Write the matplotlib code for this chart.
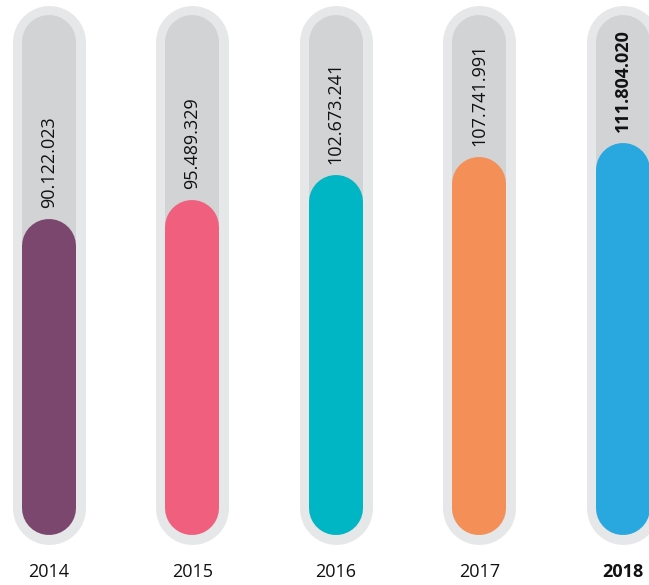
import matplotlib
matplotlib.use("Agg")
import matplotlib.pyplot as plt
import matplotlib.transforms as mtransforms

plt.rcParams['font.family'] = ['Open Sans', 'DejaVu Sans']

years = ['2014', '2015', '2016', '2017', '2018']
values = [90.122023, 95.489329, 102.673241, 107.741991, 111.804020]
labels = ['90.122.023', '95.489.329', '102.673.241', '107.741.991', '111.804.020']
colors = ['#7b476e', '#f0607e', '#00b5c4', '#f48f58', '#29a8df']
track_max = 148.3

fig = plt.figure(figsize=(6.49, 5.85), dpi=100)
ax = fig.add_axes([0, 0, 1, 1])
ax.set_xlim(-0.342, 4.184)
ax.set_ylim(-14.26, 152.6)
ax.axis('off')

# pixels per data unit in y, used to keep round caps inside the range
p0 = ax.transData.transform((0, 0))
p1 = ax.transData.transform((0, 1))
ppu = p1[1] - p0[1]
px2pt = 72.0 / fig.dpi

outer_w = 73
inner_w = 54
r = inner_w / 2 / ppu

for i, (v, lab, c, yr) in enumerate(zip(values, labels, colors, years)):
    ax.plot([i, i], [r, track_max - r], color='#e6e7e8', lw=outer_w * px2pt,
            solid_capstyle='round')
    ax.plot([i, i], [r, track_max - r], color='#d1d3d4', lw=inner_w * px2pt,
            solid_capstyle='round')
    ax.plot([i, i], [r, v - r], color=c, lw=inner_w * px2pt,
            solid_capstyle='round')
    bold = 'bold' if yr == '2018' else 'normal'
    ax.annotate(lab, (i, v), xytext=(0, 8), textcoords='offset points',
                rotation=90, ha='center', va='bottom', fontsize=13,
                fontweight=bold, color='#111111')
    trans = mtransforms.blended_transform_factory(ax.transData, ax.transAxes)
    ax.text(i, 0.022, yr, transform=trans, ha='center', va='center',
            fontsize=13, fontweight=bold, color='#111111')

fig.savefig('out.png', dpi=100)
